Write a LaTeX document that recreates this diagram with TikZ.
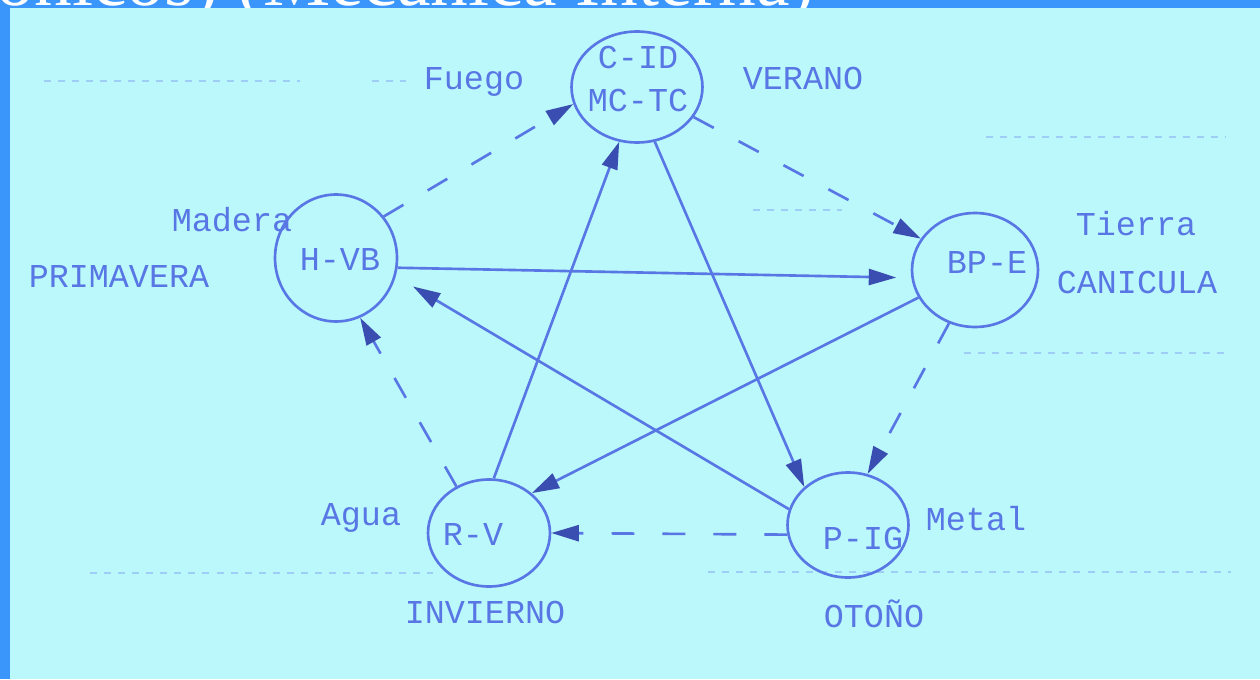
\documentclass[tikz,border=0pt]{standalone}
\usepackage{fontspec}
\setmonofont{Liberation Mono}
\newfontfamily\titlefont{Liberation Serif}
\usepackage{tikz}
\usetikzlibrary{shapes.geometric}
\usetikzlibrary{arrows.meta}
\usepackage{xcolor}
\definecolor{ink}{RGB}{88,118,228}
\definecolor{inkdark}{RGB}{58,78,178}
\definecolor{ghost}{RGB}{158,206,246}
\definecolor{paper}{RGB}{186,248,252}
\definecolor{frame}{RGB}{58,150,250}

\begin{document}
\begin{tikzpicture}[x=0.02cm,y=-0.02cm,
  elem/.style={ellipse,draw=ink,line width=1.5pt,minimum width=2.45cm,minimum height=2.2cm,inner sep=0pt},
  tag/.style={text=ink,font=\ttfamily\fontsize{19}{24.4}\selectfont,inner sep=0pt},
  arr/.style={draw=ink,line width=1.5pt,-{Triangle[length=0.55cm,width=0.32cm,color=inkdark]}},
  dsh/.style={arr,dash pattern=on 13pt off 16pt},
  ghostline/.style={ghost,line width=1.4pt,dash pattern=on 4pt off 4pt}]
\useasboundingbox (0,0) rectangle (1260,679);
\fill[frame] (0,0) rectangle (1260,679);
\node[anchor=base east,text=white,font=\titlefont\fontsize{43}{50}\selectfont,inner sep=0pt] (title) at (815,6) {rónicos) (Mecánica Interna)};
\fill[paper] (10,8) rectangle (1260,679);
% faint ruled lines of the scan
\draw[ghostline] (44,81)--(300,81);
\draw[ghostline] (372,81)--(406,81);
\draw[ghostline] (90,573)--(433,573);
\draw[ghostline] (708,572)--(1231,572);
\draw[ghostline] (986,137)--(1225,137);
\draw[ghostline] (753,210)--(842,210);
\draw[ghostline] (964,353)--(1229,353);
% the five elements
\node[elem,minimum width=2.62cm,minimum height=2.22cm] (fire) at (637,87) {};
\node[elem,minimum width=2.44cm,minimum height=2.54cm] (wood) at (336,258) {};
\node[elem,minimum width=2.52cm,minimum height=2.28cm] (earth) at (975,270) {};
\node[elem,minimum width=2.44cm,minimum height=2.14cm] (water) at (489,533) {};
\node[elem,minimum width=2.42cm,minimum height=2.1cm] (metal) at (848,525) {};
\node[tag,align=center] (fireT) at (638,79) {C-ID\\MC-TC};
\node[tag] (woodT) at (340,260) {H-VB};
\node[tag] (earthT) at (987,263) {BP-E};
\node[tag] (waterT) at (473,534) {R-V};
\node[tag] (metalT) at (863,538) {P-IG};
% names and seasons
\node[tag] (fuego) at (474,82) {Fuego};
\node[tag] (verano) at (803,78) {VERANO};
\node[tag] (madera) at (232,220) {Madera};
\node[tag] (primavera) at (119,277) {PRIMAVERA};
\node[tag] (tierra) at (1136,224) {Tierra};
\node[tag] (canicula) at (1137,282) {CANICULA};
\node[tag] (agua) at (361,518) {Agua};
\node[tag] (invierno) at (485,612) {INVIERNO};
\node[tag] (metalL) at (976,519) {Metal};
\node[tag] (otono) at (874,614) {OTOÑO};
% star
\draw[arr] (fire.-72)--(metal.139);
\draw[arr] (water.85)--(fire.-108);
\draw[arr,shorten >=0.3cm] (wood.-9)--(earth.187);
\draw[arr] (earth.206)--(water.43);
\draw[arr,shorten >=0.4cm] (metal.165)--(wood.-17);
% ring
\draw[dsh] (wood.41)--(fire.195);
\draw[dsh] (fire.-28)--(earth.150);
\draw[dsh] (earth.244)--(metal.69);
\draw[dsh] (metal.189)--(water.0);
\draw[dsh] (water.125)--(wood.-68);
\end{tikzpicture}
\end{document}
